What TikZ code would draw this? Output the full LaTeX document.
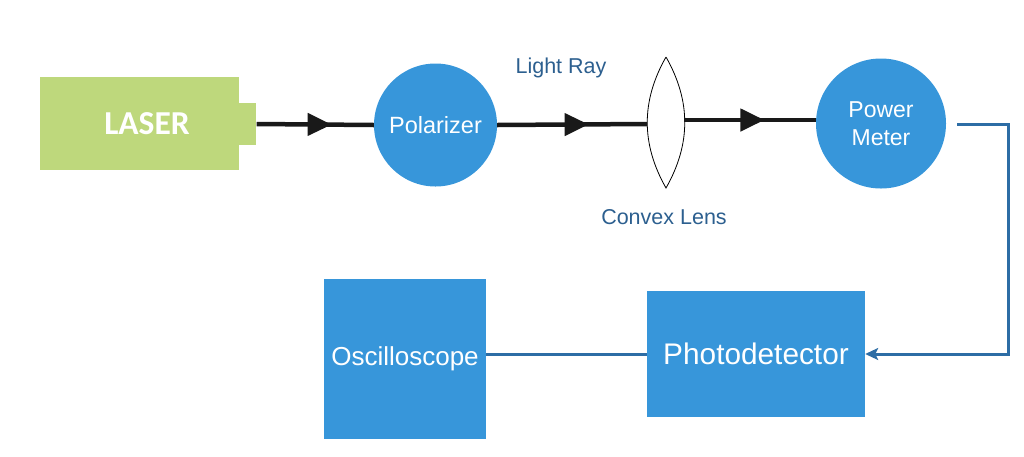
\documentclass[tikz,border=0pt]{standalone}
\usepackage{fontspec}
\setmainfont{Liberation Sans}
\newfontfamily\calfont{Carlito}
\usetikzlibrary{arrows.meta,decorations.markings,calc}
\definecolor{lasergreen}{HTML}{BED87C}
\definecolor{unitblue}{HTML}{3796DA}
\definecolor{wireblue}{HTML}{2D6DA5}
\definecolor{labelblue}{HTML}{2C5F8F}
\begin{document}
\begin{tikzpicture}[x=1pt,y=-1pt,
  unit/.style={fill=unitblue,draw=none,text=white,align=center,inner sep=0pt},
  disc/.style={unit,circle,minimum size=#1},
  block/.style={unit,rectangle},
  ray/.style={line width=4.5pt,draw=black!90,
    postaction={decorate,decoration={markings,
      mark=at position #1 with {\arrow{Triangle[length=24pt,width=22pt]}}}}},
  wire/.style={line width=3pt,draw=wireblue},
  tag/.style={text=labelblue,font=\fontsize{21.5}{24}\selectfont}]
\useasboundingbox (0,0) rectangle (1024,456);

% laser body and output tab
\node[fill=lasergreen,minimum width=199pt,minimum height=93pt,inner sep=0pt]
  (laser) at (139.5,123.5) {};
\node[text=white,font=\calfont\bfseries\fontsize{33.5}{36}\selectfont]
  (lasertext) at (147,124) {LASER};
\node[fill=lasergreen,minimum width=17pt,minimum height=42pt,inner sep=0pt,anchor=west]
  (tab) at (laser.east|-0,124) {};

% round optical units
\node[disc=123pt,font=\fontsize{23.5}{26}\selectfont] (pol) at (435.5,125) {Polarizer};
\node[disc=130pt,font=\fontsize{23}{28}\selectfont] (pm) at (881,123.5) {Power\\Meter};

% convex lens
\coordinate (lensT) at (666,57);
\coordinate (lensB) at (666,188);
\coordinate (lensL) at (647,124);
\coordinate (lensR) at (684,120);
\draw[line width=0.8pt] (lensT) .. controls (641,101) and (641,144) .. (lensB)
  .. controls (691,144) and (691,101) .. (lensT);

% detection blocks
\node[block,minimum width=218pt,minimum height=126pt,font=\fontsize{29.8}{32}\selectfont]
  (pd) at (756,354) {Photodetector};
\node[block,minimum width=162pt,minimum height=160pt,font=\fontsize{26}{28}\selectfont]
  (osc) at (405,359) {Oscilloscope};

% labels
\node[tag] (lightray) at (561,68) {Light Ray};
\node[tag] (lenslabel) at (664,217) {Convex Lens};

% light path
\draw[ray=0.64] (tab.east) -- (pol.west);
\draw[ray=0.61] (pol.east) -- (lensL);
\draw[ray=0.61] (lensR) -- (lensR-|pm.west);

% signal path
\coordinate (pmout) at (957,124.5);
\draw[wire,-{Stealth[length=13pt,width=12pt,inset=3pt]}] (pmout) -- (1008,124.5) |- (pd.east);
\draw[wire] (pd.west) -- (osc.east|-pd.west);
\end{tikzpicture}
\end{document}
